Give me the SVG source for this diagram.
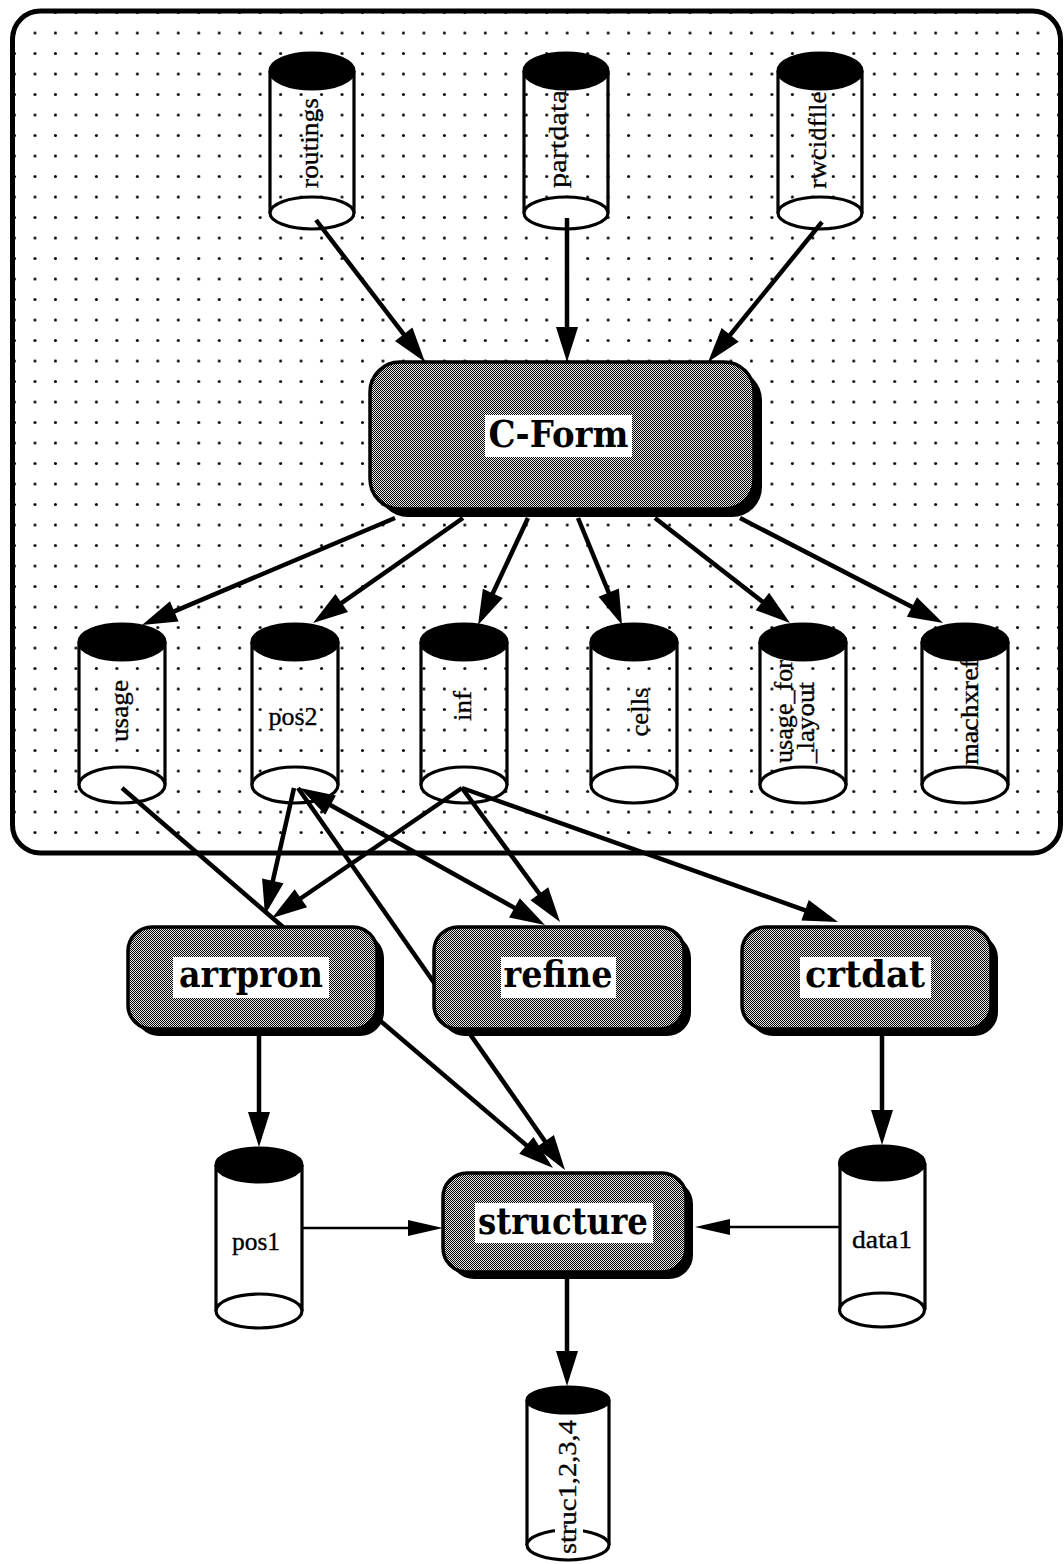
<svg xmlns="http://www.w3.org/2000/svg" width="1064" height="1564" viewBox="0 0 1064 1564">
<style>
.side{stroke:#000;stroke-width:3.2;fill:none}
.bot{fill:#fff;stroke:#000;stroke-width:3.2}
.top{fill:#000;stroke:#000;stroke-width:3.2}
.lbl{font-family:"Liberation Serif","DejaVu Serif",serif;font-size:26px;fill:#000;stroke:#000;stroke-width:0.35;text-anchor:middle}
.lbls{font-family:"Liberation Serif","DejaVu Serif",serif;font-size:26px;fill:#000;stroke:#000;stroke-width:0.35;text-anchor:start}
.shadow{fill:#000}
.box{fill:url(#ht);stroke:#000;stroke-width:3.5}
.tag{fill:#fff}
.blbl{font-family:"DejaVu Serif","Liberation Serif",serif;font-size:37px;font-weight:bold;fill:#000;text-anchor:middle}
.c{stroke:#000;stroke-width:4.5;fill:none;marker-end:url(#ah)}
.cn{stroke:#000;stroke-width:4.5;fill:none}
.t{stroke:#000;stroke-width:2.5;fill:none;marker-end:url(#ahs)}
</style>
<defs>
<pattern id="dots" patternUnits="userSpaceOnUse" x="4.3" y="2.25" width="20.47" height="20.5">
<circle cx="10.23" cy="10.25" r="1.5" fill="#000"/>
</pattern>
<pattern id="ht" patternUnits="userSpaceOnUse" width="2" height="2">
<rect width="2" height="2" fill="#e6e6e6"/>
<rect width="1" height="1" fill="#000"/>
<rect x="1" y="1" width="1" height="1" fill="#000"/>
</pattern>
<marker id="ah" markerUnits="userSpaceOnUse" viewBox="-30 -12 40 24" markerWidth="40" markerHeight="24" refX="0" refY="0" orient="auto-start-reverse">
<path d="M8,0 L-27,-11 L-27,11 Z" fill="#000"/>
</marker>
<marker id="ahs" markerUnits="userSpaceOnUse" viewBox="-30 -10 40 20" markerWidth="40" markerHeight="20" refX="0" refY="0" orient="auto">
<path d="M8,0 L-27,-8 L-27,8 Z" fill="#000"/>
</marker>
</defs>
<rect width="1064" height="1564" fill="#fff"/>

<g id="container">
<rect x="12.5" y="11" width="1048" height="842" rx="28" fill="url(#dots)" stroke="#000" stroke-width="5"/>
</g>

<g id="routings">
<path class="side" d="M270,71 V213 M354,71 V213"/>
<ellipse class="bot" cx="312" cy="213" rx="42" ry="16"/>
<text class="lbl" transform="translate(318,143) rotate(-90)" textLength="90" lengthAdjust="spacingAndGlyphs">routings</text>
<ellipse class="top" cx="312" cy="71" rx="42" ry="18"/>
</g>
<g id="partdata">
<path class="side" d="M524,71 V213 M608,71 V213"/>
<ellipse class="bot" cx="566" cy="213" rx="42" ry="16"/>
<text class="lbl" transform="translate(566,139) rotate(-90)" textLength="98" lengthAdjust="spacingAndGlyphs">partdata</text>
<ellipse class="top" cx="566" cy="71" rx="42" ry="18"/>
</g>
<g id="rwcidfile">
<path class="side" d="M778,71 V213 M862,71 V213"/>
<ellipse class="bot" cx="820" cy="213" rx="42" ry="16"/>
<text class="lbl" transform="translate(826,140) rotate(-90)" textLength="97" lengthAdjust="spacingAndGlyphs">rwcidfile</text>
<ellipse class="top" cx="820" cy="71" rx="42" ry="18"/>
</g>

<g id="usage">
<path class="side" d="M79,642 V785 M165,642 V785"/>
<ellipse class="bot" cx="122" cy="785" rx="43" ry="18"/>
<text class="lbl" transform="translate(128,711) rotate(-90)" textLength="62" lengthAdjust="spacingAndGlyphs">usage</text>
<ellipse class="top" cx="122" cy="642" rx="43" ry="18"/>
</g>
<g id="pos2">
<path class="side" d="M252,642 V785 M338,642 V785"/>
<ellipse class="bot" cx="295" cy="785" rx="43" ry="18"/>
<text class="lbl" x="293" y="725" textLength="49" lengthAdjust="spacingAndGlyphs">pos2</text>
<ellipse class="top" cx="295" cy="642" rx="43" ry="18"/>
</g>
<g id="inf">
<path class="side" d="M421,642 V785 M507,642 V785"/>
<ellipse class="bot" cx="464" cy="785" rx="43" ry="18"/>
<text class="lbl" transform="translate(471,706) rotate(-90)" textLength="30" lengthAdjust="spacingAndGlyphs">inf</text>
<ellipse class="top" cx="464" cy="642" rx="43" ry="18"/>
</g>
<g id="cells">
<path class="side" d="M591,642 V785 M677,642 V785"/>
<ellipse class="bot" cx="634" cy="785" rx="43" ry="18"/>
<text class="lbl" transform="translate(648,712) rotate(-90)" textLength="49" lengthAdjust="spacingAndGlyphs">cells</text>
<ellipse class="top" cx="634" cy="642" rx="43" ry="18"/>
</g>
<g id="usage_for_layout">
<path class="side" d="M760,642 V785 M846,642 V785"/>
<ellipse class="bot" cx="803" cy="785" rx="43" ry="18"/>
<text class="lbls" transform="translate(792,763) rotate(-90)" textLength="103" lengthAdjust="spacingAndGlyphs">usage_for</text>
<text class="lbls" transform="translate(814,763) rotate(-90)" textLength="81" lengthAdjust="spacingAndGlyphs">_layout</text>
<ellipse class="top" cx="803" cy="642" rx="43" ry="18"/>
</g>
<g id="machxref">
<path class="side" d="M922,642 V785 M1008,642 V785"/>
<ellipse class="bot" cx="965" cy="785" rx="43" ry="18"/>
<text class="lbls" transform="translate(978,765) rotate(-90)" textLength="106" lengthAdjust="spacingAndGlyphs">machxref</text>
<ellipse class="top" cx="965" cy="642" rx="43" ry="18"/>
</g>

<g id="pos1">
<path class="side" d="M216,1165 V1311 M302,1165 V1311"/>
<ellipse class="bot" cx="259" cy="1311" rx="43" ry="17"/>
<text class="lbl" x="256" y="1250" textLength="48" lengthAdjust="spacingAndGlyphs">pos1</text>
<ellipse class="top" cx="259" cy="1165" rx="43" ry="17"/>
</g>
<g id="data1">
<path class="side" d="M840,1163 V1310 M925,1163 V1310"/>
<ellipse class="bot" cx="882" cy="1310" rx="42.5" ry="17"/>
<text class="lbl" x="882" y="1248" textLength="60" lengthAdjust="spacingAndGlyphs">data1</text>
<ellipse class="top" cx="882" cy="1163" rx="42.5" ry="17"/>
</g>
<g id="struc">
<path class="side" d="M527,1400 V1545 M609,1400 V1545"/>
<ellipse class="bot" cx="568" cy="1545" rx="41" ry="15"/>
<rect x="555" y="1420" width="28" height="137" fill="#fff"/>
<text class="lbl" transform="translate(576,1487) rotate(-90)" textLength="134" lengthAdjust="spacingAndGlyphs">struc1,2,3,4</text>
<ellipse class="top" cx="568" cy="1400" rx="41" ry="13"/>
</g>

<g id="connectors">
<path class="c" d="M316,220 L420.1,355.7"/>
<path class="c" d="M567,218 L567,354"/>
<path class="c" d="M822,222 L713.1,355.8"/>
<path class="c" d="M395,518 L149.4,621.9"/>
<path class="c" d="M463,518 L319.6,618.4"/>
<path class="c" d="M528,518 L481.4,617.8"/>
<path class="c" d="M578,518 L619,617.6"/>
<path class="c" d="M655,518 L783.7,618.1"/>
<path class="c" d="M740,518 L935.9,619.3"/>
<path class="cn" d="M122,788 L283,927"/>
<path class="c" d="M294,788 L266.8,907.2"/>
<path class="c" d="M462,788 L278.6,913.5"/>
<path class="c" d="M307,792 L538,921" marker-start="url(#ah)"/>
<path class="c" d="M462,788 L555.3,915.5"/>
<path class="c" d="M462,788 L830.5,919.3"/>
<path class="c" d="M298,788 L560.4,1163.4"/>
<path class="c" d="M377,1018 L546.9,1162.8"/>
<path class="c" d="M259,1036 L259,1139"/>
<path class="c" d="M882,1036 L882,1137"/>
<path class="t" d="M302,1228 L435,1228"/>
<path class="t" d="M840,1227 L703,1227"/>
<path class="c" d="M567,1278 L567,1378"/>
</g>

<g id="cform">
<rect class="shadow" x="378" y="370" width="384" height="147" rx="30"/>
<rect class="box" x="370" y="362" width="384" height="147" rx="30"/>
<rect class="tag" x="485" y="415" width="147" height="42"/>
<text class="blbl" x="558.5" y="447" textLength="140" lengthAdjust="spacingAndGlyphs">C-Form</text>
</g>
<g id="arrpron">
<rect class="shadow" x="135" y="934" width="249" height="102" rx="24"/>
<rect class="box" x="128" y="927" width="249" height="102" rx="24"/>
<rect class="tag" x="173" y="957" width="156" height="41"/>
<text class="blbl" x="251" y="987" textLength="144" lengthAdjust="spacingAndGlyphs">arrpron</text>
</g>
<g id="refine">
<rect class="shadow" x="441" y="934" width="250" height="102" rx="24"/>
<rect class="box" x="434" y="927" width="250" height="102" rx="24"/>
<rect class="tag" x="501" y="957" width="115" height="41"/>
<text class="blbl" x="558" y="987" textLength="109" lengthAdjust="spacingAndGlyphs">refine</text>
</g>
<g id="crtdat">
<rect class="shadow" x="749" y="934" width="249" height="102" rx="24"/>
<rect class="box" x="742" y="927" width="249" height="102" rx="24"/>
<rect class="tag" x="800" y="957" width="131" height="41"/>
<text class="blbl" x="865" y="987" textLength="120" lengthAdjust="spacingAndGlyphs">crtdat</text>
</g>
<g id="structure">
<rect class="shadow" x="450" y="1180" width="243" height="99" rx="24"/>
<rect class="box" x="443" y="1173" width="243" height="99" rx="24"/>
<rect class="tag" x="475" y="1203" width="178" height="40"/>
<text class="blbl" x="563" y="1234" textLength="170" lengthAdjust="spacingAndGlyphs">structure</text>
</g>
</svg>
